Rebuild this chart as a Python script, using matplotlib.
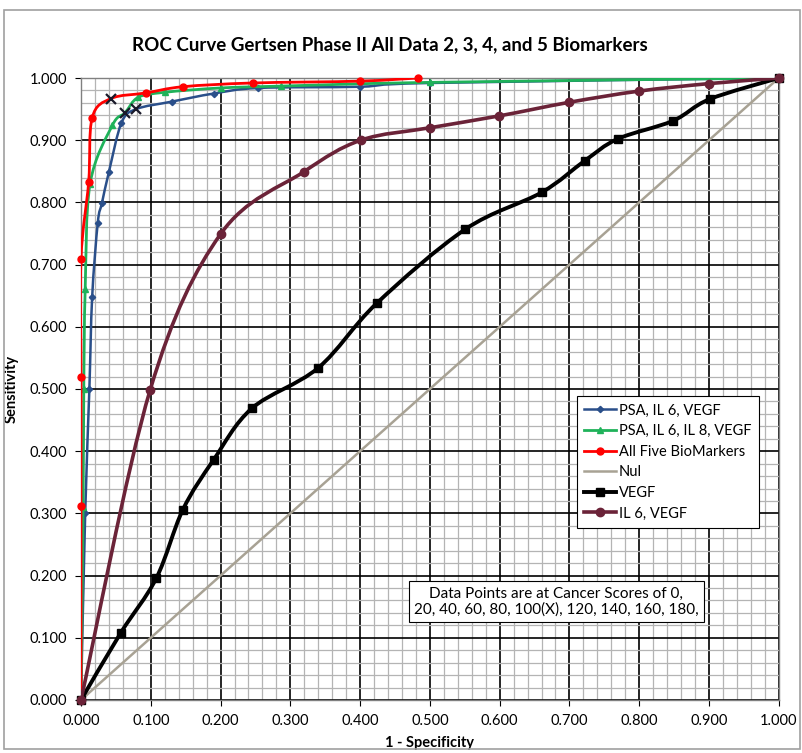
"""ROC curves for the Gertsen Phase II biomarker panels."""

import matplotlib

matplotlib.use("Agg")
import matplotlib.pyplot as plt
import numpy as np
from matplotlib.lines import Line2D
from matplotlib.patches import PathPatch, Rectangle
from matplotlib.path import Path
from matplotlib.ticker import MultipleLocator, FormatStrFormatter

plt.rcParams["font.family"] = ["Lato", "DejaVu Sans"]

TITLE = "ROC Curve Gertsen Phase II All Data 2, 3, 4, and 5 Biomarkers"
NOTE = "Data Points are at Cancer Scores of 0,\n20, 40, 60, 80, 100(X), 120, 140, 160, 180,"

# (1 - specificity, sensitivity) per series
psa_il6_vegf_x = [0.0, 0.006, 0.012, 0.016, 0.024, 0.030, 0.040, 0.058, 0.079, 0.13, 0.19, 0.254, 0.40, 0.50, 1.0]
psa_il6_vegf_y = [0.0, 0.30, 0.500, 0.648, 0.767, 0.799, 0.849, 0.928, 0.950, 0.962, 0.975, 0.984, 0.986, 0.992, 1.0]
psa_il6_vegf_mark = 8

psa_il6_il8_vegf_x = [0.0, 0.003, 0.004, 0.006, 0.013, 0.045, 0.063, 0.082, 0.12, 0.20, 0.287, 0.50, 1.0]
psa_il6_il8_vegf_y = [0.0, 0.31, 0.50, 0.66, 0.83, 0.924, 0.944, 0.969, 0.977, 0.984, 0.987, 0.993, 1.0]
psa_il6_il8_vegf_mark = 6

all_five_x = [0.0, 0.0, 0.0, 0.0, 0.011, 0.016, 0.043, 0.093, 0.146, 0.246, 0.400, 0.483]
all_five_y = [0.0, 0.312, 0.519, 0.709, 0.833, 0.936, 0.967, 0.976, 0.986, 0.992, 0.995, 1.0]
all_five_mark = 6

nul_x = [0.0, 1.0]
nul_y = [0.0, 1.0]

vegf_x = [0.0, 0.057, 0.108, 0.146, 0.190, 0.245, 0.340, 0.424, 0.551, 0.660, 0.722, 0.769, 0.848, 0.901, 1.0]
vegf_y = [0.0, 0.108, 0.196, 0.306, 0.386, 0.469, 0.534, 0.638, 0.757, 0.816, 0.867, 0.902, 0.931, 0.966, 1.0]

il6_vegf_x = [0.0, 0.099, 0.200, 0.319, 0.401, 0.500, 0.599, 0.700, 0.800, 0.900, 1.0]
il6_vegf_y = [0.0, 0.498, 0.749, 0.849, 0.900, 0.920, 0.939, 0.961, 0.979, 0.991, 1.0]


def smooth_path(xs, ys):
    """Catmull-Rom style bezier path, roughly what Excel's smoothed lines do."""
    pts = np.column_stack([xs, ys]).astype(float)
    n = len(pts)
    verts = [pts[0]]
    codes = [Path.MOVETO]
    for i in range(n - 1):
        p0 = pts[max(i - 1, 0)]
        p1 = pts[i]
        p2 = pts[i + 1]
        p3 = pts[min(i + 2, n - 1)]
        c1 = p1 + (p2 - p0) / 6.0
        c2 = p2 - (p3 - p1) / 6.0
        verts += [c1, c2, p2]
        codes += [Path.CURVE4] * 3
    return Path(verts, codes)


fig = plt.figure(figsize=(8.02, 7.53), dpi=100)
ax = fig.add_axes([0.101, 0.0704, 0.870, 0.826])

ax.set_xlim(0, 1)
ax.set_ylim(0, 1)
ax.xaxis.set_major_locator(MultipleLocator(0.1))
ax.yaxis.set_major_locator(MultipleLocator(0.1))
ax.xaxis.set_minor_locator(MultipleLocator(0.02))
ax.yaxis.set_minor_locator(MultipleLocator(0.02))
ax.xaxis.set_major_formatter(FormatStrFormatter("%.3f"))
ax.yaxis.set_major_formatter(FormatStrFormatter("%.3f"))
ax.grid(which="minor", color="#b4b4b4", linewidth=0.9)
ax.grid(which="major", color="black", linewidth=1.2)
ax.set_axisbelow(True)
ax.tick_params(which="major", direction="out", length=4, labelsize=10.5, pad=6)
ax.tick_params(which="minor", length=0)
for spine in ax.spines.values():
    spine.set_color("#808080")
    spine.set_linewidth(1)

series = [
    ("PSA, IL 6, VEGF", psa_il6_vegf_x, psa_il6_vegf_y, "#2a4f8a", "D", 3.2, 1.8, psa_il6_vegf_mark),
    ("PSA, IL 6, IL 8, VEGF", psa_il6_il8_vegf_x, psa_il6_il8_vegf_y, "#1fb25a", "^", 4.2, 2.0, psa_il6_il8_vegf_mark),
    ("All Five BioMarkers", all_five_x, all_five_y, "#ff0000", "o", 5, 2.0, all_five_mark),
    ("Nul", nul_x, nul_y, "#a8a294", None, 0, 1.8, None),
    ("VEGF", vegf_x, vegf_y, "black", "s", 6, 2.8, None),
    ("IL 6, VEGF", il6_vegf_x, il6_vegf_y, "#6b2338", "o", 6, 2.6, None),
]

handles = []
draw_order = [3, 4, 5, 0, 1, 2]
for idx in draw_order:
    label, xs, ys, color, marker, msize, lw, mark_idx = series[idx]
    patch = PathPatch(smooth_path(xs, ys), fill=False, edgecolor=color,
                      linewidth=lw, capstyle="round", joinstyle="round", zorder=3 + idx)
    ax.add_patch(patch)
    if marker:
        mx = [v for i, v in enumerate(xs) if i != mark_idx]
        my = [v for i, v in enumerate(ys) if i != mark_idx]
        ax.plot(mx, my, linestyle="none", marker=marker, markersize=msize,
                color=color, zorder=3.5 + idx, clip_on=False)
    if mark_idx is not None:
        ax.plot(xs[mark_idx], ys[mark_idx], linestyle="none", marker="x",
                markersize=7, markeredgewidth=1.6, color="#1a1a2a", zorder=10)

for label, xs, ys, color, marker, msize, lw, mark_idx in series:
    handles.append(Line2D([], [], color=color, linewidth=lw, marker=marker,
                          markersize=msize, label=label))

leg = ax.legend(handles=handles, loc="upper left", bbox_to_anchor=(0.70, 0.50),
                fancybox=False, framealpha=1, edgecolor="black", fontsize=10.5,
                handlelength=2.2, handletextpad=0.2, borderpad=0.5, labelspacing=0.45)
leg.get_frame().set_linewidth(0.8)
leg.set_zorder(20)

ax.text(0.681, 0.158, NOTE, transform=ax.transAxes, ha="center", va="center",
        fontsize=11, linespacing=1.2, zorder=20,
        bbox=dict(boxstyle="square,pad=0.35", facecolor="white", edgecolor="black", linewidth=0.8))

ax.set_xlabel("1 - Specificity", fontsize=10.5, fontweight="bold", labelpad=6)
ax.set_ylabel("Sensitivity", fontsize=10.5, fontweight="bold", labelpad=8)

fig.text(0.486, 0.94, TITLE, ha="center", va="center", fontsize=13.5, fontweight="bold")

fig.patches.append(Rectangle((0.005, 0.005), 0.993, 0.982, transform=fig.transFigure,
                             fill=False, edgecolor="#a0a0a0", linewidth=1.2))

fig.savefig("out.png", dpi=100)
